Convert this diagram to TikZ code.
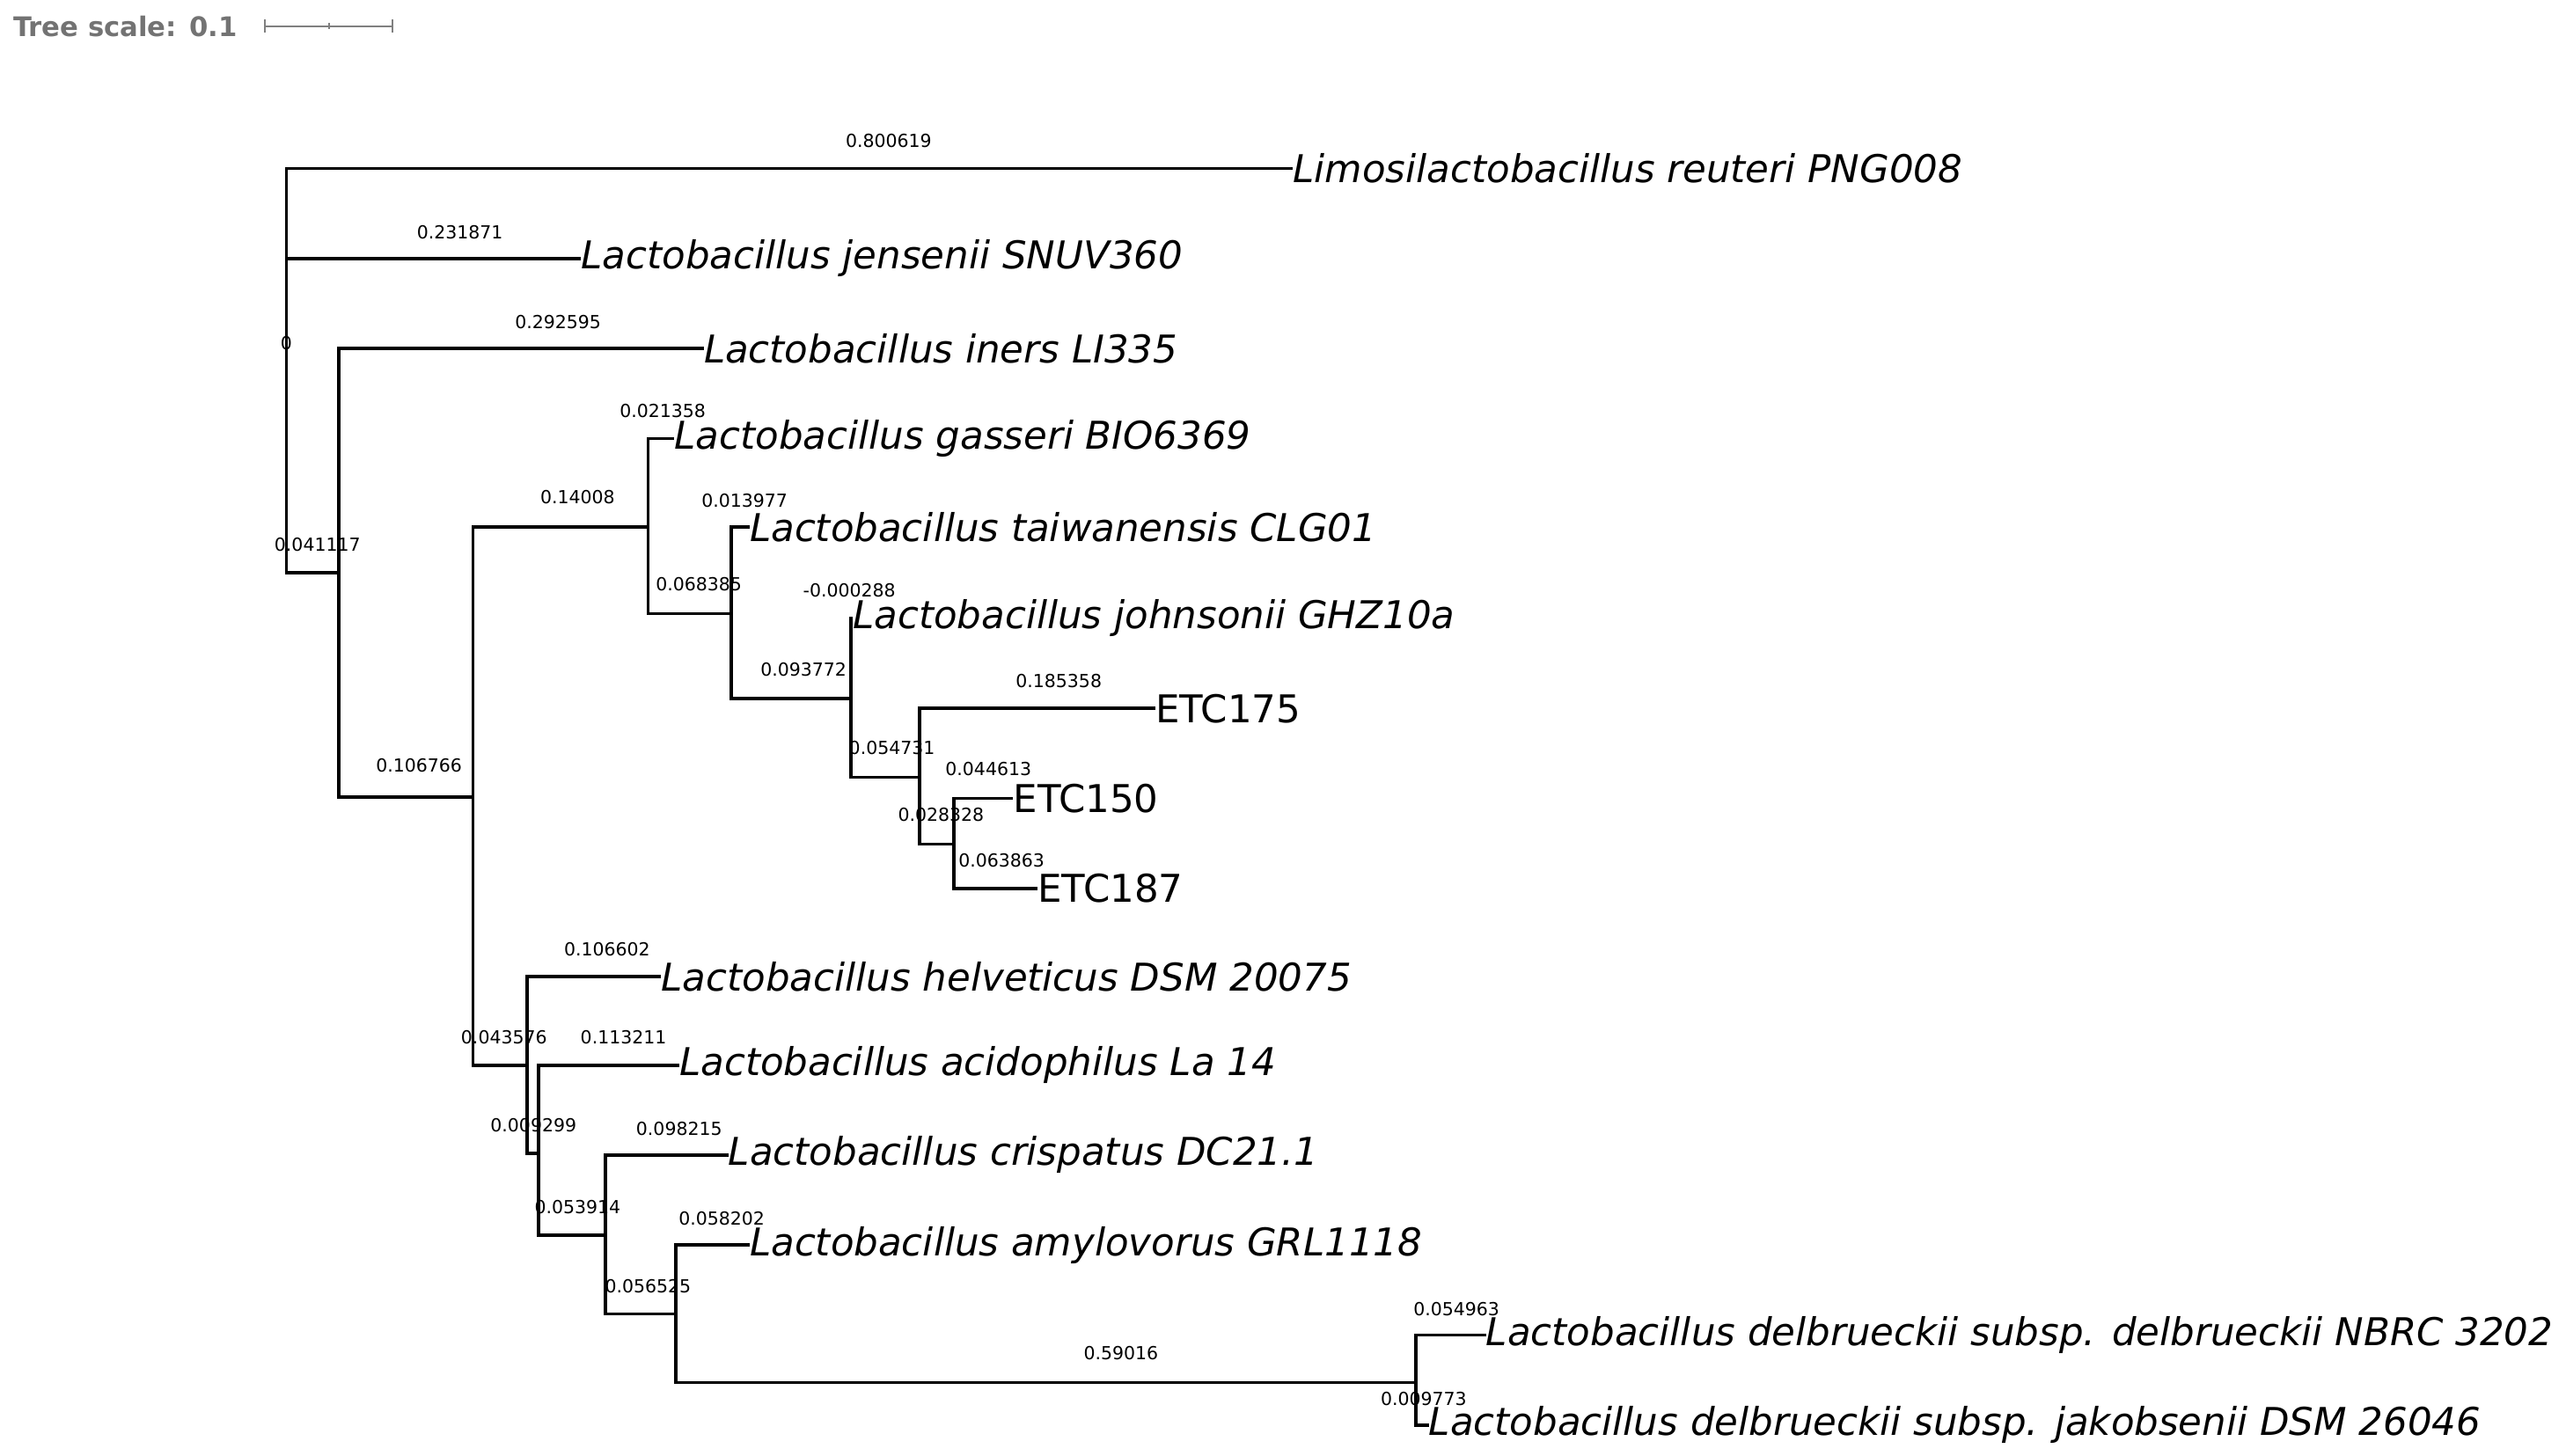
\documentclass[tikz,border=0pt]{standalone}
\usepackage{fontspec}
\setmainfont{DejaVu Sans}
\begin{document}
\begin{tikzpicture}[x=1pt,y=-1pt,
  br/.style={line width=2pt},
  leaf/.style={anchor=west,inner sep=0pt,font=\fontsize{23.4}{23.4}\selectfont\itshape},
  leafu/.style={anchor=west,inner sep=0pt,font=\fontsize{23.4}{23.4}\selectfont},
  bl/.style={inner sep=0pt,font=\fontsize{11}{11}\selectfont}]
\useasboundingbox (0,0) rectangle (1568,889.4);
% scale
\node[anchor=west,inner sep=0pt,text=gray!90!black,font=\fontsize{16.5}{16.5}\selectfont\bfseries] (ts) at (8,16) {Tree scale: 0.1};
\coordinate (sa) at (162,16); \coordinate (sb) at (240,16);
\draw[gray,line width=1pt] (sa) -- (sb);
\draw[gray,line width=1pt] ([yshift=-4]sa) -- ([yshift=4]sa) ([yshift=-4]sb) -- ([yshift=4]sb) (201,14) -- (201,18);
% inner nodes
\coordinate (r) at (175,226);
\coordinate (n207) at (207,350);
\coordinate (n289) at (289,487);
\coordinate (n396) at (396,322);
\coordinate (n447) at (447,375);
\coordinate (n520) at (520,427);
\coordinate (n562) at (562,475);
\coordinate (n583) at (583,516);
\coordinate (n322) at (322,651);
\coordinate (n329) at (329,705);
\coordinate (n370) at (370,755);
\coordinate (n413) at (413,803);
\coordinate (n865) at (865,845);
% leaves
\node[leaf] (reu) at (790,103) {Limosilactobacillus reuteri PNG008};
\node[leaf] (jen) at (355,158) {Lactobacillus jensenii SNUV360};
\node[leaf] (ine) at (430,213) {Lactobacillus iners LI335};
\node[leaf] (gas) at (412,268) {Lactobacillus gasseri BIO6369};
\node[leaf] (tai) at (458,322) {Lactobacillus taiwanensis CLG01};
\node[leaf] (joh) at (521,378) {Lactobacillus johnsonii GHZ10a};
\node[leafu] (e175) at (706,433) {ETC175};
\node[leafu] (e150) at (619,488) {ETC150};
\node[leafu] (e187) at (634,543) {ETC187};
\node[leaf] (hel) at (404,597) {Lactobacillus helveticus DSM 20075};
\node[leaf] (aci) at (415,651) {Lactobacillus acidophilus La 14};
\node[leaf] (cri) at (445,706) {Lactobacillus crispatus DC21.1};
\node[leaf] (amy) at (458,761) {Lactobacillus amylovorus GRL1118};
\node[leaf] (del) at (908,816) {Lactobacillus delbrueckii subsp. delbrueckii NBRC 3202};
\node[leaf] (jak) at (873,871) {Lactobacillus delbrueckii subsp. jakobsenii DSM 26046};
% branches
\draw[br] (r) |- (reu.west); \draw[br] (r) |- (jen.west); \draw[br] (r) |- (n207);
\draw[br] (n207) |- (ine.west); \draw[br] (n207) |- (n289);
\draw[br] (n289) |- (n396); \draw[br] (n289) |- (n322);
\draw[br] (n396) |- (gas.west); \draw[br] (n396) |- (n447);
\draw[br] (n447) |- (tai.west); \draw[br] (n447) |- (n520);
\draw[br] (n520) |- (joh.west); \draw[br] (n520) |- (n562);
\draw[br] (n562) |- (e175.west); \draw[br] (n562) |- (n583);
\draw[br] (n583) |- (e150.west); \draw[br] (n583) |- (e187.west);
\draw[br] (n322) |- (hel.west); \draw[br] (n322) |- (n329);
\draw[br] (n329) |- (aci.west); \draw[br] (n329) |- (n370);
\draw[br] (n370) |- (cri.west); \draw[br] (n370) |- (n413);
\draw[br] (n413) |- (amy.west); \draw[br] (n413) |- (n865);
\draw[br] (n865) |- (del.west); \draw[br] (n865) |- (jak.west);
% branch labels
\node[bl] (b1) at (543,86) {0.800619};
\node[bl] (b2) at (281,142) {0.231871};
\node[bl] (b3) at (341,197) {0.292595};
\node[bl] (b4) at (175,210) {0};
\node[bl] (b5) at (194,333) {0.041117};
\node[bl] (b6) at (256,468) {0.106766};
\node[bl] (b7) at (405,251) {0.021358};
\node[bl] (b8) at (353,304) {0.14008};
\node[bl] (b9) at (455,306) {0.013977};
\node[bl] (b10) at (427,357) {0.068385};
\node[bl] (b11) at (519,361) {-0.000288};
\node[bl] (b12) at (491,409) {0.093772};
\node[bl] (b13) at (647,416) {0.185358};
\node[bl] (b14) at (545,457) {0.054731};
\node[bl] (b15) at (604,470) {0.044613};
\node[bl] (b16) at (575,498) {0.028328};
\node[bl] (b17) at (612,526) {0.063863};
\node[bl] (b18) at (371,580) {0.106602};
\node[bl] (b19) at (308,634) {0.043576};
\node[bl] (b20) at (381,634) {0.113211};
\node[bl] (b21) at (326,688) {0.009299};
\node[bl] (b22) at (415,690) {0.098215};
\node[bl] (b23) at (353,738) {0.053914};
\node[bl] (b24) at (441,745) {0.058202};
\node[bl] (b25) at (396,786) {0.056525};
\node[bl] (b26) at (685,827) {0.59016};
\node[bl] (b27) at (890,800) {0.054963};
\node[bl] (b28) at (870,855) {0.009773};
\end{tikzpicture}
\end{document}
